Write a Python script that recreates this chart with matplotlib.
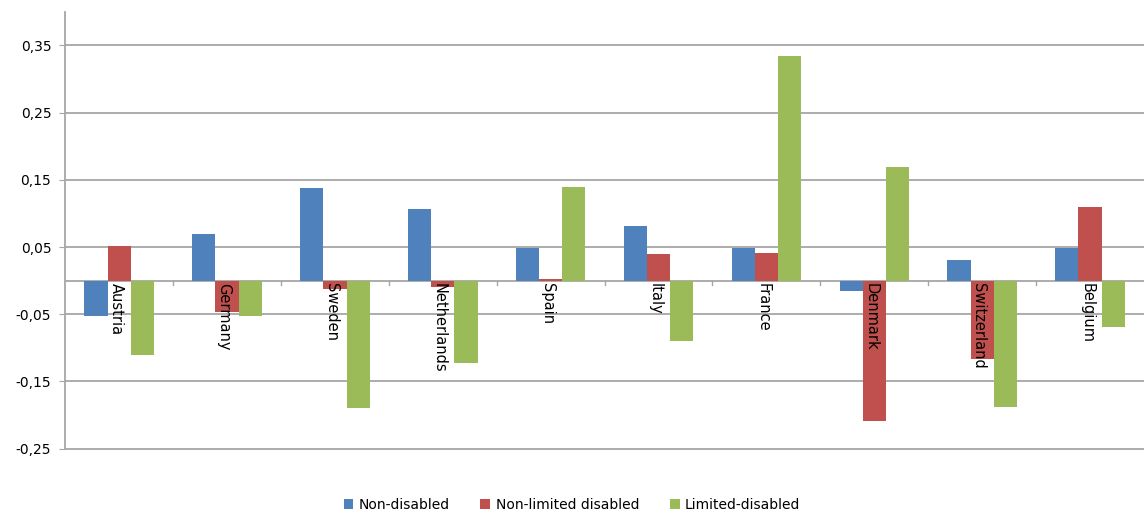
import numpy as np
import matplotlib.pyplot as plt

# Data
countries = ["Austria", "Germany", "Sweden", "Netherlands", "Spain",
             "Italy", "France", "Denmark", "Switzerland", "Belgium"]
non_disabled = [-0.053, 0.070, 0.138, 0.107, 0.049, 0.082, 0.049, -0.015, 0.031, 0.049]
non_limited = [0.052, -0.046, -0.012, -0.010, 0.003, 0.039, 0.041, -0.209, -0.117, 0.110]
limited = [-0.110, -0.053, -0.189, -0.123, 0.140, -0.090, 0.334, 0.169, -0.188, -0.069]

series = [("Non-disabled", non_disabled, "#4F81BD"),
          ("Non-limited disabled", non_limited, "#C0504D"),
          ("Limited-disabled", limited, "#9BBB59")]

fig = plt.figure(figsize=(11.44, 5.15), dpi=100)
ax = fig.add_axes([0.057, 0.125, 0.943, 0.852])

x = np.arange(len(countries))
w = 0.215
for i, (name, vals, col) in enumerate(series):
    ax.bar(x + (i - 1) * w, vals, w, color=col, label=name, zorder=3)

ax.set_xlim(-0.5, len(countries) - 0.5)
ax.set_ylim(-0.253, 0.40)
yt = [-0.25, -0.15, -0.05, 0.05, 0.15, 0.25, 0.35]
ax.set_yticks(yt)
ax.set_yticklabels([f"{v:.2f}".replace(".", ",") for v in yt], fontsize=10)
ax.yaxis.grid(True, color="#a6a6a6", linewidth=1.3, zorder=0)
ax.tick_params(axis="y", length=4, color="#a6a6a6", pad=6)

for s in ["top", "right", "bottom"]:
    ax.spines[s].set_visible(False)
ax.spines["left"].set_color("#a6a6a6")
ax.spines["left"].set_linewidth(1.3)
ax.spines["left"].set_bounds(-0.25, 0.40)

# zero line with category boundary ticks
ax.axhline(0, color="#a6a6a6", linewidth=1.3, zorder=2)
ax.set_xticks([])
for b in np.arange(0.5, len(countries) - 0.5, 1):
    ax.plot([b, b], [0, -0.006], color="#a6a6a6", linewidth=1, zorder=2)

for xi, name in zip(x, countries):
    ax.text(xi - 0.03, -0.004, name, rotation=-90, ha="center", va="top",
            fontsize=10.5, zorder=4)

fig.legend(loc="lower center", ncol=3, frameon=False, fontsize=10,
           handlelength=0.7, handleheight=0.7, columnspacing=2.2,
           handletextpad=0.4, bbox_to_anchor=(0.5, -0.018))

fig.savefig("out.png", dpi=100)
